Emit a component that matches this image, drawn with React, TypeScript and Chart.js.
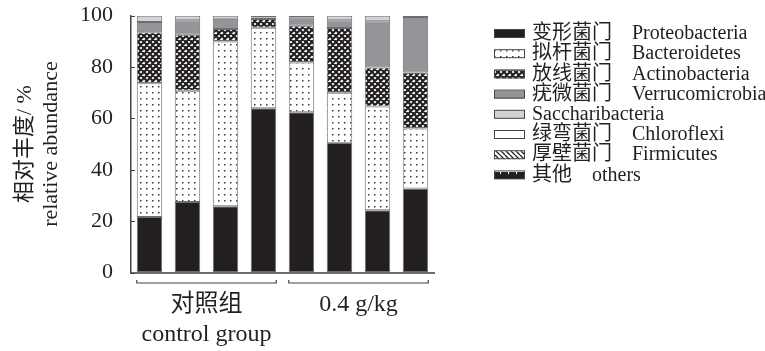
import React, { useEffect, useRef } from "react";
import { Chart, registerables } from "chart.js";

Chart.register(...registerables);

// ---- data ----
const categories = ["CK-1", "CK-2", "CK-3", "CK-4", "T-1", "T-2", "T-3", "T-4"];
const proteobacteria = [21.6, 27.5, 25.8, 64.0, 62.4, 50.5, 24.2, 32.7];
const bacteroidetes = [52.1, 43.3, 64.2, 31.3, 19.4, 19.5, 40.4, 23.4];
const actinobacteria = [19.9, 21.8, 4.8, 3.4, 14.3, 25.2, 15.2, 21.8];
const verrucomicrobia = [3.9, 5.6, 4.0, 0, 3.3, 3.0, 18.0, 21.6];
const saccharibacteria = [2.5, 1.8, 1.2, 0.6, 0, 1.8, 2.2, 0];
const chloroflexi = [0, 0, 0, 0, 0, 0, 0, 0];
const firmicutes = [0, 0, 0, 0, 0, 0, 0, 0];
const others = [0, 0, 0, 0.7, 0.6, 0, 0, 0.5];

const seriesZh = ["变形菌门", "拟杆菌门", "放线菌门", "疣微菌门", "", "绿弯菌门", "厚壁菌门", "其他"];
const seriesEn = ["Proteobacteria", "Bacteroidetes", "Actinobacteria", "Verrucomicrobia", "Saccharibacteria", "Chloroflexi", "Firmicutes", "others"];
const groupLabels = [["对照组", "control group"], ["0.4 g/kg"]];
const groupRanges = [[0, 3], [4, 7]];
const yTicks = [0, 20, 40, 60, 80, 100];
const yTitle = ["相对丰度/ %", "relative abundance"];

const FONT = '"Liberation Serif", "Noto Sans CJK SC", serif';
const INK = "#231f20";

function tile(w: number, h: number, draw: (c: CanvasRenderingContext2D) => void) {
  const cv = document.createElement("canvas");
  cv.width = w;
  cv.height = h;
  const c = cv.getContext("2d")!;
  draw(c);
  return c.createPattern(cv, "repeat")!;
}

export default function App() {
  const ref = useRef<HTMLCanvasElement>(null);
  useEffect(() => {
    const canvas = ref.current!;
    const dots = tile(6, 6, (c) => {
      c.fillStyle = "#fff";
      c.fillRect(0, 0, 6, 6);
      c.fillStyle = "#3a3a3a";
      c.fillRect(2, 2, 1.5, 1.5);
    });
    const cross = tile(6, 6, (c) => {
      c.fillStyle = "#fff";
      c.fillRect(0, 0, 6, 6);
      c.strokeStyle = INK;
      c.lineWidth = 2.2;
      c.beginPath();
      for (const o of [-6, 0, 6]) {
        c.moveTo(o, 0);
        c.lineTo(o + 6, 6);
        c.moveTo(o + 6, 0);
        c.lineTo(o, 6);
      }
      c.stroke();
    });
    const stripes = tile(5, 5, (c) => {
      c.fillStyle = "#fff";
      c.fillRect(0, 0, 5, 5);
      c.strokeStyle = INK;
      c.lineWidth = 1.3;
      c.beginPath();
      for (const o of [-5, 0, 5]) {
        c.moveTo(o, 0);
        c.lineTo(o + 5, 5);
      }
      c.stroke();
    });
    const oth = tile(8, 8, (c) => {
      c.fillStyle = INK;
      c.fillRect(0, 0, 8, 8);
      c.fillStyle = "#fff";
      c.fillRect(0, 3, 8, 1);
      c.fillRect(4, 4, 1, 2);
    });
    const fills: any[] = [INK, dots, cross, "#939598", "#d1d3d4", "#ffffff", stripes, oth];
    const series = [proteobacteria, bacteroidetes, actinobacteria, verrucomicrobia, saccharibacteria, chloroflexi, firmicutes, others];

    const datasets = series.map((d, i) => ({
      label: seriesEn[i],
      data: d,
      backgroundColor: fills[i],
      borderColor: "#6d6e71",
      borderWidth: 1,
      borderSkipped: false,
      categoryPercentage: 1,
      barPercentage: 0.67,
    }));

    const decor = {
      id: "decor",
      afterDraw(chart: any) {
        const ctx = chart.ctx as CanvasRenderingContext2D;
        const x = chart.scales.x;
        const y = chart.scales.y;
        ctx.save();
        // inward y ticks
        ctx.strokeStyle = "#444";
        ctx.lineWidth = 1;
        for (const v of yTicks) {
          const py = Math.round(y.getPixelForValue(v)) + 0.5;
          ctx.beginPath();
          ctx.moveTo(x.left, py);
          ctx.lineTo(x.left + 4.5, py);
          ctx.stroke();
        }
        // group brackets
        const step = x.getPixelForValue(1) - x.getPixelForValue(0);
        const half = (step * 0.67) / 2;
        const by = chart.chartArea.bottom + 10.5;
        ctx.strokeStyle = "#444";
        ctx.lineWidth = 1.2;
        ctx.font = `24px ${FONT}`;
        ctx.fillStyle = INK;
        ctx.textAlign = "center";
        ctx.textBaseline = "middle";
        groupRanges.forEach(([a, b], gi) => {
          const x0 = x.getPixelForValue(a) - half;
          const x1 = x.getPixelForValue(b) + half;
          ctx.beginPath();
          ctx.moveTo(x0, by - 3);
          ctx.lineTo(x0, by);
          ctx.lineTo(x1, by);
          ctx.lineTo(x1, by - 3);
          ctx.stroke();
          const cx = (x0 + x1) / 2;
          groupLabels[gi].forEach((t, li) => {
            ctx.fillText(t, cx, by + 22 + li * 30);
          });
        });
        // legend
        ctx.textAlign = "left";
        ctx.font = `20px ${FONT}`;
        chart.data.datasets.forEach((ds: any, i: number) => {
          const cy = 34 + i * 20.2;
          ctx.fillStyle = ds.backgroundColor;
          ctx.fillRect(494, cy - 4, 30, 8);
          ctx.strokeStyle = "#444";
          ctx.lineWidth = 1;
          ctx.strokeRect(494.5, cy - 4.5, 30, 8);
          ctx.fillStyle = INK;
          if (seriesZh[i]) {
            ctx.fillText(seriesZh[i], 532, cy);
            ctx.fillText(seriesEn[i], i === 7 ? 592 : 632, cy);
          } else {
            ctx.fillText(seriesEn[i], 532, cy);
          }
        });
        ctx.restore();
      },
    };

    const chart = new Chart(canvas, {
      type: "bar",
      data: { labels: categories, datasets },
      options: {
        animation: false,
        responsive: false,
        events: [],
        layout: { padding: { left: 0, right: 330.5, top: 15.7, bottom: 78.5 } },
        plugins: { legend: { display: false }, tooltip: { enabled: false } },
        scales: {
          x: {
            stacked: true,
            grid: { display: false, drawTicks: false },
            ticks: { display: false },
            border: { display: true, color: "#6d6e71", width: 2 },
          },
          y: {
            stacked: true,
            min: 0,
            max: 100,
            afterFit(scale: any) {
              scale.width = 130.5;
            },
            afterBuildTicks(scale: any) {
              scale.ticks = yTicks.map((v) => ({ value: v }));
            },
            grid: {
              display: true,
              drawOnChartArea: false,
              drawTicks: true,
              tickLength: 17.5,
              tickColor: "rgba(0,0,0,0)",
            },
            border: { display: true, color: "#444", width: 1.5 },
            ticks: { padding: 0, color: INK, font: { family: FONT, size: 22 } },
            title: {
              display: true,
              text: yTitle,
              color: INK,
              font: { family: FONT, size: 22, lineHeight: 26 / 22 },
              padding: { top: 12, bottom: 0 },
            },
          },
        },
      },
      plugins: [decor],
    } as any);
    return () => chart.destroy();
  }, []);
  return (
    <div style={{ position: "absolute", left: 0, top: 0, width: 765, height: 351, background: "#fff" }}>
      <canvas ref={ref} width={765} height={351} style={{ display: "block" }} />
    </div>
  );
}
